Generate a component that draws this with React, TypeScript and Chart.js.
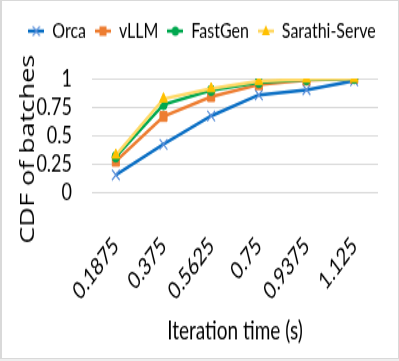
import React, { useEffect, useRef } from "react";
import { Chart, registerables } from "chart.js";

Chart.register(...registerables);

const categories = ["0.1875", "0.375", "0.5625", "0.75", "0.9375", "1.125"];
const orca = [0.15, 0.42, 0.67, 0.855, 0.9, 0.98];
const vllm = [0.27, 0.665, 0.84, 0.945, 0.985, 1.0];
const fastgen = [0.31, 0.77, 0.895, 0.965, 0.99, 1.0];
const sarathi = [0.325, 0.82, 0.91, 0.975, 0.995, 1.0];
const yTicks = [0, 0.25, 0.5, 0.75, 1];

const W = 399;
const H = 361;
const S = 1.35;
const IH = Math.round(H / S);

type Series = {
  label: string;
  data: number[];
  line: string;
  point: string;
  style: string;
  radius: number;
  order: number;
};

const series: Series[] = [
  { label: "Orca", data: orca, line: "#0B6FC4", point: "#5B8FD9", style: "crossRot", radius: 5.5, order: 3 },
  { label: "vLLM", data: vllm, line: "#ED7D31", point: "#ED7D31", style: "rect", radius: 5, order: 2 },
  { label: "FastGen", data: fastgen, line: "#00A84F", point: "#00A84F", style: "circle", radius: 3.8, order: 1 },
  { label: "Sarathi-Serve", data: sarathi, line: "#FFD966", point: "#FFC000", style: "triangle", radius: 4.5, order: 0 },
];

function makeIcon(s: Series): HTMLCanvasElement {
  const c = document.createElement("canvas");
  c.width = 16;
  c.height = 12;
  const ctx = c.getContext("2d")!;
  ctx.strokeStyle = s.line;
  ctx.lineWidth = 2.5;
  ctx.beginPath();
  ctx.moveTo(0, 6);
  ctx.lineTo(16, 6);
  ctx.stroke();
  ctx.fillStyle = s.point;
  ctx.strokeStyle = s.point;
  ctx.lineWidth = 1.2;
  const x = 8, y = 6;
  if (s.style === "crossRot") {
    ctx.beginPath();
    ctx.moveTo(x - 3.5, y - 3.5); ctx.lineTo(x + 3.5, y + 3.5);
    ctx.moveTo(x + 3.5, y - 3.5); ctx.lineTo(x - 3.5, y + 3.5);
    ctx.stroke();
  } else if (s.style === "rect") {
    ctx.fillRect(x - 3.5, y - 3.5, 7, 7);
  } else if (s.style === "circle") {
    ctx.beginPath();
    ctx.arc(x, y, 3.6, 0, Math.PI * 2);
    ctx.fill();
  } else {
    ctx.beginPath();
    ctx.moveTo(x, y - 4.5);
    ctx.lineTo(x + 4, y + 3);
    ctx.lineTo(x - 4, y + 3);
    ctx.closePath();
    ctx.fill();
  }
  return c;
}

const legendSpacing = {
  id: "legendSpacing",
  beforeInit(chart: any) {
    const legend = chart.legend;
    if (!legend) return;
    const origFit = legend.fit;
    legend.fit = function () {
      origFit.call(this);
      this.height += 17;
    };
  },
};

export default function App() {
  const ref = useRef<HTMLCanvasElement | null>(null);
  useEffect(() => {
    const canvas = ref.current!;
    const icons = series.map(makeIcon);
    const chart = new Chart(canvas, {
      type: "line",
      plugins: [legendSpacing],
      data: {
        labels: categories,
        datasets: series.map((s) => ({
          label: s.label,
          data: s.data,
          borderColor: s.line,
          backgroundColor: s.point,
          pointBackgroundColor: s.point,
          pointBorderColor: s.point,
          pointBorderWidth: s.style === "crossRot" ? 1.2 : 1,
          pointStyle: s.style as any,
          pointRadius: s.radius,
          borderWidth: 2.5,
          tension: 0,
          order: s.order,
        })),
      },
      options: {
        animation: false,
        responsive: false,
        devicePixelRatio: 1,
        layout: { padding: { left: 10, right: 5, top: 6, bottom: 6 } },
        plugins: {
          tooltip: { enabled: false },
          legend: {
            position: "top",
            labels: {
              font: { family: "Lato", size: 16 },
              color: "#000",
              usePointStyle: true,
              pointStyleWidth: 16,
              boxHeight: 12,
              padding: 9,
              generateLabels: () =>
                series.map((s, i) => ({
                  text: s.label,
                  fillStyle: s.point,
                  strokeStyle: s.point,
                  lineWidth: 0,
                  pointStyle: icons[i],
                  datasetIndex: i,
                  hidden: false,
                })),
            },
          },
        },
        scales: {
          x: {
            offset: true,
            grid: { display: false, drawTicks: false },
            border: { display: false },
            afterFit: (scale: any) => {
              scale.height = 119;
            },
            ticks: {
              font: { family: "Lato", size: 18 },
              color: "#000",
              maxRotation: 45,
              minRotation: 45,
              padding: 29,
              autoSkip: false,
            },
            title: {
              display: true,
              text: "Iteration time (s)",
              font: { family: "Lato", size: 19 },
              color: "#000",
              padding: { top: 2, bottom: 5 },
            },
          },
          y: {
            min: 0,
            max: 1,
            afterBuildTicks: (scale: any) => {
              scale.ticks = yTicks.map((v) => ({ value: v }));
            },
            afterFit: (scale: any) => {
              scale.width = 82;
            },
            grid: { color: "#D9D9D9", lineWidth: 1, drawTicks: false },
            border: { display: false },
            ticks: {
              font: { family: "Lato", size: 18 },
              color: "#000",
              padding: 20,
              autoSkip: false,
              callback: (v: any) => String(v),
            },
            title: {
              display: true,
              text: "CDF of batches    ",
              font: { family: "Open Sans", size: 20 },
              color: "#000",
              padding: { top: 6, bottom: 0 },
            },
          },
        },
      },
    });
    return () => chart.destroy();
  }, []);
  return (
    <div style={{ position: "absolute", left: 0, top: 0, width: W, height: H, background: "#fff" }}>
      <canvas
        ref={ref}
        width={W}
        height={IH}
        style={{ display: "block", width: W + "px", height: H + "px" }}
      />
      <div
        style={{
          position: "absolute",
          left: 0,
          top: 0,
          width: 396,
          height: 357,
          borderTop: "1px solid #d9d9d9",
          borderLeft: "2px solid #d9d9d9",
          borderRight: "1px solid #d9d9d9",
          borderBottom: "1px solid #d9d9d9",
          pointerEvents: "none",
        }}
      />
      <div style={{ position: "absolute", left: 0, top: 359, width: W, height: 2, background: "#eeeeee" }} />
    </div>
  );
}
